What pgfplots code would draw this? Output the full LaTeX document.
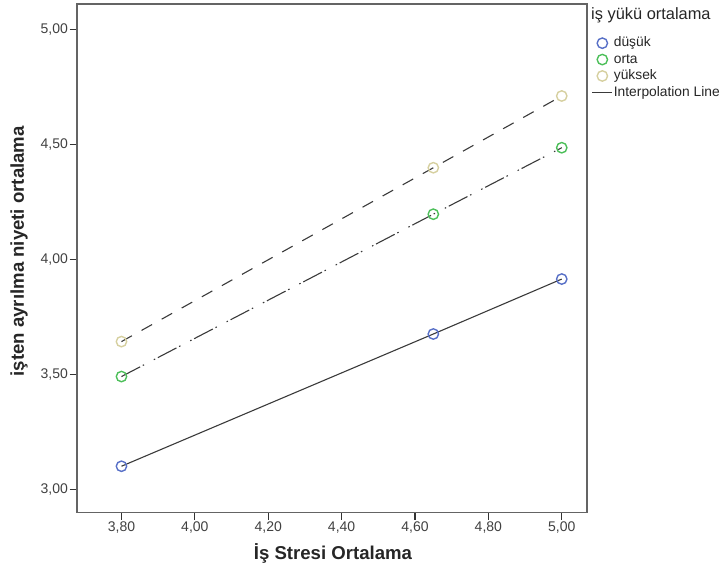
\documentclass[border=0pt]{standalone}
\usepackage{pgfplots}
\pgfplotsset{compat=1.18}
\usepackage{fontspec}
\setmainfont{Liberation Sans}
\definecolor{cblue}{RGB}{88,112,199}
\definecolor{cgreen}{RGB}{77,191,90}
\definecolor{cbeige}{RGB}{214,208,160}
\definecolor{linec}{RGB}{58,58,58}
\definecolor{axisgray}{RGB}{100,100,100}
\begin{document}
\begin{tikzpicture}[x=1pt,y=1pt]
\useasboundingbox (0,0) rectangle (721,573);
\begin{axis}[
  at={(76.7pt,60.3pt)}, anchor=south west,
  scale only axis, width=510pt, height=508.7pt,
  xmin=3.678, xmax=5.068, ymin=2.898, ymax=5.110,
  xtick={3.8,4.0,4.2,4.4,4.6,4.8,5.0},
  ytick={3.0,3.5,4.0,4.5,5.0},
  tick align=outside, tick pos=left, major tick length=7pt,
  every axis/.append style={line width=1.6pt},
  axis line style={draw=axisgray, line width=1.6pt},
  every tick/.style={draw=black!80, line width=1.2pt},
  ticklabel style={font=\fontsize{14}{16}\selectfont, text=black!75, inner sep=1pt},
  /pgf/number format/.cd, use comma, fixed, fixed zerofill, precision=2, assume math mode=true, /pgfplots/.cd,
  xlabel={İş Stresi Ortalama},
  ylabel={işten ayrılma niyeti ortalama},
  every axis x label/.style={at={(axis description cs:0.5025,-0.0792)}, anchor=center, font=\fontsize{18.6}{20}\selectfont\bfseries, text=black!85},
  every axis y label/.style={at={(axis description cs:-0.113,0.514)}, rotate=90, anchor=center, font=\fontsize{18.6}{20}\selectfont\bfseries, text=black!85},
  legend style={at={(axis description cs:1.0084,0.94)}, anchor=north west, draw=none, fill=none,
    font=\fontsize{13.8}{15}\selectfont, row sep=0.7pt, inner sep=0pt,
    nodes={inner sep=1pt, text height=10.5pt, text depth=3.2pt, text=black!85}},
  legend cell align=left,
  legend image code/.code={\draw[mark repeat=2,mark phase=2,#1] plot coordinates {(0pt,0pt) (10pt,0pt) (20pt,0pt)};},
]
\addplot[linec, line width=1.1pt, forget plot] coordinates {(3.80,3.100) (4.65,3.675) (5.00,3.914)};
\addplot[linec, line width=1.1pt, dash pattern=on 21pt off 3pt on 1.5pt off 11pt on 1.5pt off 3pt, forget plot] coordinates {(3.80,3.490) (4.65,4.196) (5.00,4.485)};
\addplot[linec, line width=1.1pt, dash pattern=on 12pt off 11pt, forget plot] coordinates {(3.80,3.642) (4.65,4.398) (5.00,4.710)};
\addplot[only marks, mark=o, mark size=5.2pt, cblue, mark options={line width=1.4pt}] coordinates {(3.80,3.100) (4.65,3.675) (5.00,3.914)};
\addlegendentry{düşük}
\addplot[only marks, mark=o, mark size=5.2pt, cgreen, mark options={line width=1.4pt}] coordinates {(3.80,3.490) (4.65,4.196) (5.00,4.485)};
\addlegendentry{orta}
\addplot[only marks, mark=o, mark size=5.2pt, cbeige, mark options={line width=1.4pt}] coordinates {(3.80,3.642) (4.65,4.398) (5.00,4.710)};
\addlegendentry{yüksek}
\addlegendimage{linec, line width=1.1pt}
\addlegendentry{Interpolation Line}
\end{axis}
\node[anchor=west, font=\fontsize{16.4}{18}\selectfont, text=black!85, inner sep=0pt] at (591,558) {iş yükü ortalama};
\end{tikzpicture}
\end{document}
